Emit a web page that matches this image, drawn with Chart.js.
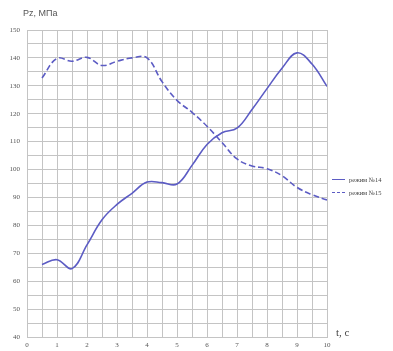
<!DOCTYPE html>
<html>
<head>
<meta charset="utf-8">
<script src="https://cdn.jsdelivr.net/npm/chart.js@4"></script>
<style>
    html, body { margin: 0; padding: 0; background: #fff; }
    #wrap { position: relative; width: 393px; height: 351px; }
    canvas { position: absolute; left: 0; top: 0; }
    .lbl { position: absolute; color: #555; white-space: nowrap; }
    .title { left: 23px; top: 8px; font: 9px "Liberation Sans", sans-serif; }
    .xname { left: 336px; top: 326px; font: 11px "Liberation Serif", serif; color: #444; }
    .legend { left: 332px; font: 6.5px "Liberation Serif", serif; color: #444; display: flex; align-items: center; }
    .legend i { display: inline-block; width: 13px; margin-right: 4px; border-top: 1.5px solid #5c5cc4; }
    .legend i.dash { border-top-style: dashed; }
</style>
</head>
<body>
<div id="wrap">
    <canvas id="chart" width="393" height="351"></canvas>
    <div class="lbl title">Pz, МПа</div>
    <div class="lbl xname">t, c</div>
    <div class="lbl legend" style="top:176px"><i></i>режим №14</div>
    <div class="lbl legend" style="top:189px"><i class="dash"></i>режим №15</div>
</div>
<script>
const times = [0.5, 1, 1.5, 2, 2.5, 3, 3.5, 4, 4.5, 5, 5.5, 6, 6.5, 7, 7.5, 8, 8.5, 9, 9.5, 10];
const mode14 = [66, 67.7, 64.5, 73, 82, 87.5, 91.5, 95.5, 95.3, 94.8, 101.5, 109, 113.2, 114.8, 121.5, 129, 136.3, 141.8, 137.8, 129.8];
const mode15 = [132.8, 139.8, 138.8, 140.2, 137.3, 138.8, 140, 140, 131.5, 124.8, 120.5, 115.5, 109.7, 103.8, 101.3, 100.3, 97.8, 93.6, 91, 89.1];
const seriesNames = ["режим №14", "режим №15"];

const lineColor = "#5c5cc4";
const gridColor = "#c4c4c4";
const tickFont = { family: "Liberation Serif", size: 7 };

function toPoints(values) {
    return values.map((v, i) => ({ x: times[i], y: v }));
}

new Chart(document.getElementById("chart"), {
    type: "line",
    data: {
        datasets: [
            {
                label: seriesNames[0],
                data: toPoints(mode14),
                borderColor: lineColor,
                borderWidth: 1.6,
                pointRadius: 0,
                tension: 0.4,
                fill: false,
            },
            {
                label: seriesNames[1],
                data: toPoints(mode15),
                borderColor: lineColor,
                borderWidth: 1.6,
                borderDash: [6, 3],
                pointRadius: 0,
                tension: 0.4,
                fill: false,
            },
        ],
    },
    options: {
        responsive: false,
        animation: false,
        layout: { padding: { top: 30, right: 66, left: 0, bottom: 0 } },
        plugins: { legend: { display: false }, tooltip: { enabled: false } },
        scales: {
            x: {
                type: "linear",
                min: 0,
                max: 10,
                grid: { color: gridColor, drawTicks: false },
                border: { color: gridColor },
                ticks: {
                    stepSize: 0.5,
                    padding: 4,
                    color: "#555",
                    font: tickFont,
                    maxRotation: 0,
                    autoSkip: false,
                    callback: (v) => (Number.isInteger(v) ? v : ""),
                },
                afterFit: (scale) => { scale.height = 14; },
            },
            y: {
                min: 40,
                max: 150,
                grid: { color: gridColor, drawTicks: false },
                border: { color: gridColor },
                ticks: {
                    stepSize: 5,
                    padding: 7,
                    color: "#555",
                    font: tickFont,
                    autoSkip: false,
                    callback: (v) => (v % 10 === 0 ? v : ""),
                },
                afterFit: (scale) => { scale.width = 27; },
            },
        },
    },
});
</script>
</body>
</html>
